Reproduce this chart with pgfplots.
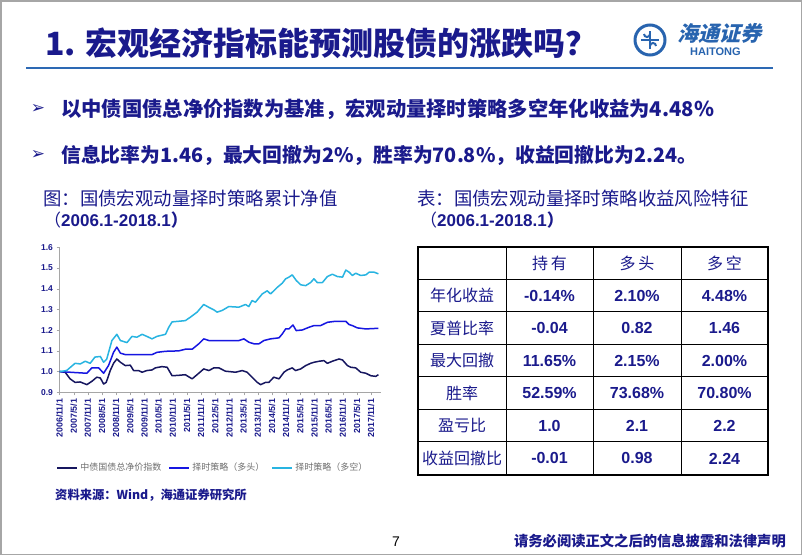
\documentclass[border=0pt]{standalone}
\usepackage{fontspec}
\setmainfont{Liberation Sans}
\newfontfamily\cjk{Noto Sans CJK SC}
\newfontfamily\cjkslant[FakeSlant=0.25]{Noto Sans CJK SC}
\newfontfamily\sym{DejaVu Sans}
\usepackage{pgfplots}
\pgfplotsset{compat=1.18}

\definecolor{navy}{RGB}{26,26,140}
\definecolor{idxc}{RGB}{22,22,95}
\definecolor{longc}{RGB}{22,22,225}
\definecolor{lsc}{RGB}{40,180,225}
\definecolor{logob}{RGB}{40,100,175}
\definecolor{rulec}{RGB}{45,105,180}
\definecolor{legtext}{RGB}{110,110,110}

\begin{document}
\begin{tikzpicture}[x=1pt,y=1pt]
\useasboundingbox (0,0) rectangle (802,-555);
\fill[white] (0,0) rectangle (802,-555);
\draw[gray!70, line width=1.5] (0.75,-0.75) rectangle (801.25,-554.25);

% header
\node[anchor=west, text=navy, inner sep=0] at (45,-43)
  {\fontsize{32}{32}\selectfont\cjk\bfseries 1. 宏观经济指标能预测股债的涨跌吗？};
\draw[rulec, line width=2] (26,-68) -- (773,-68);
% logo
\draw[logob, line width=3] (650,-40) circle (15);
\draw[logob, line width=2.2] (641,-40) -- (659,-40) (650,-31) -- (650,-49);
\draw[logob, line width=2] (644,-34) arc (180:360:3) (656,-46) arc (0:180:3);
\node[anchor=west, text=logob, inner sep=0] at (677,-33)
  {\fontsize{21}{21}\selectfont\cjkslant\bfseries 海通证券};
\node[anchor=west, text=logob, inner sep=0] at (690,-52)
  {\fontsize{11}{11}\selectfont\bfseries HAITONG};

% bullets
\node[text=navy, inner sep=0] at (38,-109) {\fontsize{17}{17}\selectfont\sym ➢};
\node[anchor=west, text=navy, inner sep=0] at (61,-109)
  {\fontsize{20.3}{20}\selectfont\cjk\bfseries 以中债国债总净价指数为基准，宏观动量择时策略多空年化收益为4.48\%};
\node[text=navy, inner sep=0] at (38,-155) {\fontsize{17}{17}\selectfont\sym ➢};
\node[anchor=west, text=navy, inner sep=0] at (61,-155)
  {\fontsize{19.8}{20}\selectfont\cjk\bfseries 信息比率为1.46，最大回撤为2\%，胜率为70.8\%，收益回撤比为2.24。};

% chart title
\node[anchor=west, text=navy, inner sep=0] at (43,-198)
  {\fontsize{18.4}{18}\selectfont\cjk 图：国债宏观动量择时策略累计净值};
\node[anchor=west, text=navy, inner sep=0] at (44,-220)
  {\fontsize{17}{17}\selectfont{\cjk （}\bfseries 2006.1-2018.1{\cjk ）}};
% table title
\node[anchor=west, text=navy, inner sep=0] at (417,-198)
  {\fontsize{18.4}{18}\selectfont\cjk 表：国债宏观动量择时策略收益风险特征};
\node[anchor=west, text=navy, inner sep=0] at (420,-220)
  {\fontsize{17}{17}\selectfont{\cjk （}\bfseries 2006.1-2018.1{\cjk ）}};

% chart
\begin{axis}[
  at={(59.5pt,-392.3pt)}, anchor=south west,
  scale only axis, width=321pt, height=145pt,
  xmin=0, xmax=136, ymin=0.9, ymax=1.6,
  axis x line*=bottom, axis y line*=left,
  axis line style={draw=gray!70, -},
  tick style={draw=gray!70}, tick align=outside, major tick length=3pt,
  ytick={0.9,1.0,1.1,1.2,1.3,1.4,1.5,1.6},
  yticklabel style={font=\fontsize{8.5}{9}\selectfont\bfseries, text=navy,
    /pgf/number format/.cd, fixed, fixed zerofill, precision=1, assume math mode=true},
  xtick={0,6,...,132},
  xticklabels={2006/11/1,2007/5/1,2007/11/1,2008/5/1,2008/11/1,2009/5/1,2009/11/1,
    2010/5/1,2010/11/1,2011/5/1,2011/11/1,2012/5/1,2012/11/1,2013/5/1,2013/11/1,
    2014/5/1,2014/11/1,2015/5/1,2015/11/1,2016/5/1,2016/11/1,2017/5/1,2017/11/1},
  xticklabel style={rotate=90, anchor=east, font=\fontsize{8.8}{9}\selectfont\bfseries, text=navy},
  legend style={at={(axis description cs:-0.01,-0.52)}, anchor=west, draw=none, fill=none,
    legend columns=3, font=\fontsize{9}{9}\selectfont\cjk, inner sep=0pt,
    /tikz/every even column/.append style={column sep=5pt}},
  legend image code/.code={\draw[#1, line width=2pt] (0pt,0pt) -- (20pt,0pt);},
  legend image post style={line width=2pt},
  every axis plot/.append style={line width=1.5pt, line join=round},
]
\addplot[idxc, draw=idxc] coordinates {
 (0,1.0) (2.4,0.997) (4.5,0.965) (6.6,0.948) (8.8,0.950) (11.6,0.937) (13.7,0.953)
 (15.8,0.973) (17.3,0.969) (18.7,0.94) (19.8,0.948) (21.5,1.005) (22.9,1.04) (24.3,1.061)
 (25.8,1.045) (27.9,1.029) (30,1.031) (31.4,1.005) (33.5,1.005) (35,0.997) (37,1.005)
 (39.2,1.008) (40.6,1.018) (43.4,1.024) (45.6,1.021) (47.7,0.98) (50.5,0.982) (53.3,0.985)
 (56.2,0.965) (59,0.992) (61.1,1.013) (63.3,1.005) (65.4,1.018) (67.5,1.018) (70.3,1.002)
 (74.6,0.997) (77.4,1.005) (79.5,0.997) (81.6,0.973) (83.8,0.948) (85.2,0.937) (87.3,0.948)
 (88.7,0.948) (90.8,0.973) (93,0.965) (95.1,0.997) (96.5,1.008) (98.6,1.018) (100,1.005)
 (102.2,1.013) (104.3,1.029) (106.4,1.04) (107.8,1.045) (110,1.05) (112,1.053) (113.5,1.04)
 (115.6,1.05) (118.4,1.061) (119.9,1.056) (122,1.029) (123.4,1.021) (125.5,1.018)
 (127.6,0.997) (129.8,0.992) (131.9,0.98) (134,0.977) (135.1,0.985)
};
\addlegendentry{\textcolor{legtext}{中债国债总净价指数}}
\addplot[longc, draw=longc] coordinates {
 (0,1.0) (11.6,0.992) (13.7,1.018) (16.6,1.018) (18.7,0.992) (20.8,1.03) (22.9,1.093)
 (24.3,1.118) (25.8,1.089) (27.9,1.082) (39.2,1.082) (41.3,1.093) (44.9,1.098) (50.5,1.10)
 (53.3,1.108) (56.2,1.108) (59,1.134) (61.1,1.158) (63.3,1.15) (76,1.15) (78.1,1.158)
 (80.2,1.142) (82.4,1.134) (84.5,1.134) (86.6,1.15) (89.4,1.158) (93,1.163) (94.4,1.182)
 (95.8,1.206) (97.2,1.206) (98.9,1.225) (100.3,1.198) (102.9,1.201) (105.7,1.214)
 (107.8,1.222) (110.6,1.222) (113.5,1.238) (117,1.243) (121.3,1.243) (122.7,1.227)
 (124.1,1.222) (126.2,1.211) (129.8,1.206) (135.1,1.209)
};
\addlegendentry{\textcolor{legtext}{择时策略（多头）}}
\addplot[lsc, draw=lsc] coordinates {
 (0,1.0) (3,1.005) (6.6,1.04) (8.8,1.037) (10.9,1.05) (13,1.04) (15,1.07) (17.3,1.073)
 (18.7,1.045) (20,1.06) (22.2,1.15) (24.3,1.18) (25.8,1.15) (28.6,1.14) (30.7,1.17)
 (32.8,1.166) (35,1.18) (37,1.17) (39.2,1.158) (41.3,1.17) (44.9,1.18) (46.3,1.214)
 (47.7,1.24) (50.5,1.243) (53.3,1.246) (55.5,1.263) (58.3,1.287) (61.1,1.324) (63.3,1.31)
 (65.4,1.298) (66.8,1.287) (68.9,1.295) (71.7,1.314) (76,1.311) (78.8,1.324) (80.2,1.314)
 (81.6,1.343) (83,1.335) (85.9,1.375) (88,1.39) (89.4,1.375) (90.8,1.39) (92.3,1.407)
 (94.4,1.427) (95.8,1.448) (97.2,1.456) (98.6,1.467) (100.3,1.44) (102.2,1.419)
 (104.3,1.415) (106.4,1.43) (107.8,1.448) (109.2,1.43) (111.4,1.43) (113.5,1.459)
 (115.6,1.47) (117.7,1.459) (119.9,1.456) (121.3,1.49) (122.7,1.48) (124.1,1.464)
 (125.5,1.475) (127.6,1.464) (129.8,1.467) (131.2,1.48) (133.3,1.48) (135.1,1.472)
};
\addlegendentry{\textcolor{legtext}{择时策略（多空）}}
\end{axis}

% source
\node[anchor=west, text=navy, inner sep=0] at (55,-495)
  {\fontsize{12.3}{12}\selectfont\cjk\bfseries 资料来源：Wind，海通证券研究所};

% table
\foreach \yy in {279.3,311.7,344,376.7,409.3,441.7}
  \draw[line width=0.9] (418,-\yy) -- (768,-\yy);
\foreach \xx in {506,593,681}
  \draw[line width=0.9] (\xx,-247) -- (\xx,-475);
\draw[line width=2.5] (418,-247) rectangle (768,-475);
\node[text=navy] at (549.5,-263) {\fontsize{16}{16}\selectfont\cjk 持\,有};
\node[text=navy] at (637,-263) {\fontsize{16}{16}\selectfont\cjk 多\,头};
\node[text=navy] at (724.5,-263) {\fontsize{16}{16}\selectfont\cjk 多\,空};
\foreach \r/\a/\b/\c/\d in {
  1/年化收益/-0.14\%/2.10\%/4.48\%,
  2/夏普比率/-0.04/0.82/1.46,
  3/最大回撤/11.65\%/2.15\%/2.00\%,
  4/胜率/52.59\%/73.68\%/70.80\%,
  5/盈亏比/1.0/2.1/2.2,
  6/收益回撤比/-0.01/0.98/2.24}{
  \node[text=navy] at (462,{-263-32.57*\r}) {\fontsize{16}{16}\selectfont\cjk \a};
  \node[text=navy] at (549.5,{-263-32.57*\r}) {\fontsize{16}{16}\selectfont\bfseries \b};
  \node[text=navy] at (637,{-263-32.57*\r}) {\fontsize{16}{16}\selectfont\bfseries \c};
  \node[text=navy] at (724.5,{-263-32.57*\r}) {\fontsize{16}{16}\selectfont\bfseries \d};
}

% footer
\node[anchor=west, inner sep=0] at (392,-542) {\fontsize{14}{14}\selectfont 7};
\node[anchor=east, text=navy, inner sep=0] at (786,-541)
  {\fontsize{14.3}{14}\selectfont\cjk\bfseries 请务必阅读正文之后的信息披露和法律声明};
\end{tikzpicture}
\end{document}
